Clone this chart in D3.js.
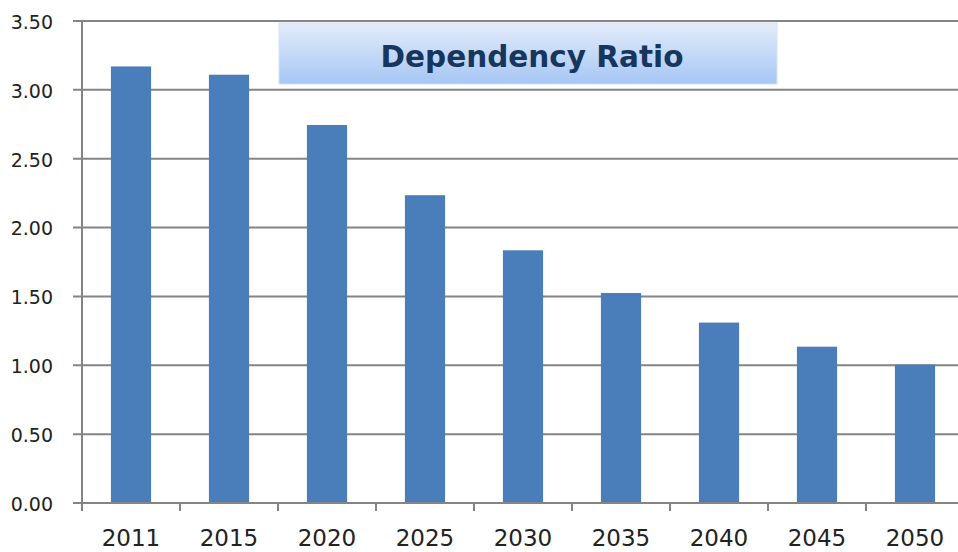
<!DOCTYPE html>
<html><head><meta charset="utf-8">
<script src="https://cdn.jsdelivr.net/npm/d3@7"></script>
<style>html,body{margin:0;padding:0;background:#fff;overflow:hidden}</style>
</head><body>
<script>
const years = ["2011","2015","2020","2025","2030","2035","2040","2045","2050"];
const ratios = [3.17, 3.11, 2.745, 2.235, 1.835, 1.525, 1.31, 1.135, 1.005];
const yTicks = [0, 0.5, 1, 1.5, 2, 2.5, 3, 3.5];
const chartTitle = "Dependency Ratio";

const W = 958, H = 552;
const m = {left: 82, top: 21, right: -6, bottom: 49};
const svg = d3.select("body").append("svg").attr("width", W).attr("height", H);

const x = d3.scaleBand().domain(years).range([m.left, W - m.right]).paddingInner(0.59).paddingOuter(0.295);
const y = d3.scaleLinear().domain([0, 3.5]).range([H - m.bottom, m.top]);

const grid = "#848484";
// gridlines
svg.append("g").selectAll("line").data(yTicks).join("line")
  .attr("x1", m.left - 9).attr("x2", W - m.right)
  .attr("y1", d => y(d)).attr("y2", d => y(d))
  .attr("stroke", grid).attr("stroke-width", 2);

// y axis labels
svg.append("g").selectAll("text").data(yTicks).join("text")
  .attr("x", 53).attr("y", d => y(d) + 1).attr("dy", "0.36em")
  .attr("text-anchor", "end")
  .attr("font-family", "DejaVu Sans").attr("font-size", 19).attr("fill", "#222")
  .text(d => d3.format(".2f")(d));

// bars
svg.append("g").selectAll("rect").data(ratios).join("rect")
  .attr("x", (d, i) => x(years[i])).attr("width", x.bandwidth())
  .attr("y", d => y(d)).attr("height", d => y(0) - y(d))
  .attr("fill", "#4a7ebb");

// axis lines
svg.append("line").attr("x1", m.left).attr("x2", m.left).attr("y1", m.top).attr("y2", y(0) + 8)
  .attr("stroke", grid).attr("stroke-width", 2);
svg.append("line").attr("x1", m.left - 9).attr("x2", W).attr("y1", y(0)).attr("y2", y(0))
  .attr("stroke", grid).attr("stroke-width", 2);

// x ticks at category boundaries
const step = x.step();
svg.append("g").selectAll("line").data(d3.range(years.length + 1)).join("line")
  .attr("x1", i => m.left + i * step).attr("x2", i => m.left + i * step)
  .attr("y1", y(0)).attr("y2", y(0) + 8)
  .attr("stroke", grid).attr("stroke-width", 2);

// x labels
svg.append("g").selectAll("text").data(years).join("text")
  .attr("x", d => x(d) + x.bandwidth() / 2).attr("y", 546)
  .attr("text-anchor", "middle")
  .attr("font-family", "DejaVu Sans").attr("font-size", 23).attr("fill", "#222")
  .text(d => d);

// title box
const defs = svg.append("defs");
const grad = defs.append("linearGradient").attr("id", "tg").attr("x1", 0).attr("x2", 0).attr("y1", 0).attr("y2", 1);
grad.append("stop").attr("offset", "0%").attr("stop-color", "#e3ecfb");
grad.append("stop").attr("offset", "100%").attr("stop-color", "#a6c6f4");
svg.append("rect").attr("x", 279).attr("y", 23).attr("width", 498).attr("height", 61)
  .attr("fill", "url(#tg)").attr("stroke", "#d6e2f3").attr("stroke-width", 1);
svg.append("text").attr("x", 532).attr("y", 67)
  .attr("text-anchor", "middle")
  .attr("font-family", "DejaVu Sans").attr("font-weight", "bold")
  .attr("font-size", 29.5).attr("fill", "#17365d")
  .text(chartTitle);
</script>
</body></html>
